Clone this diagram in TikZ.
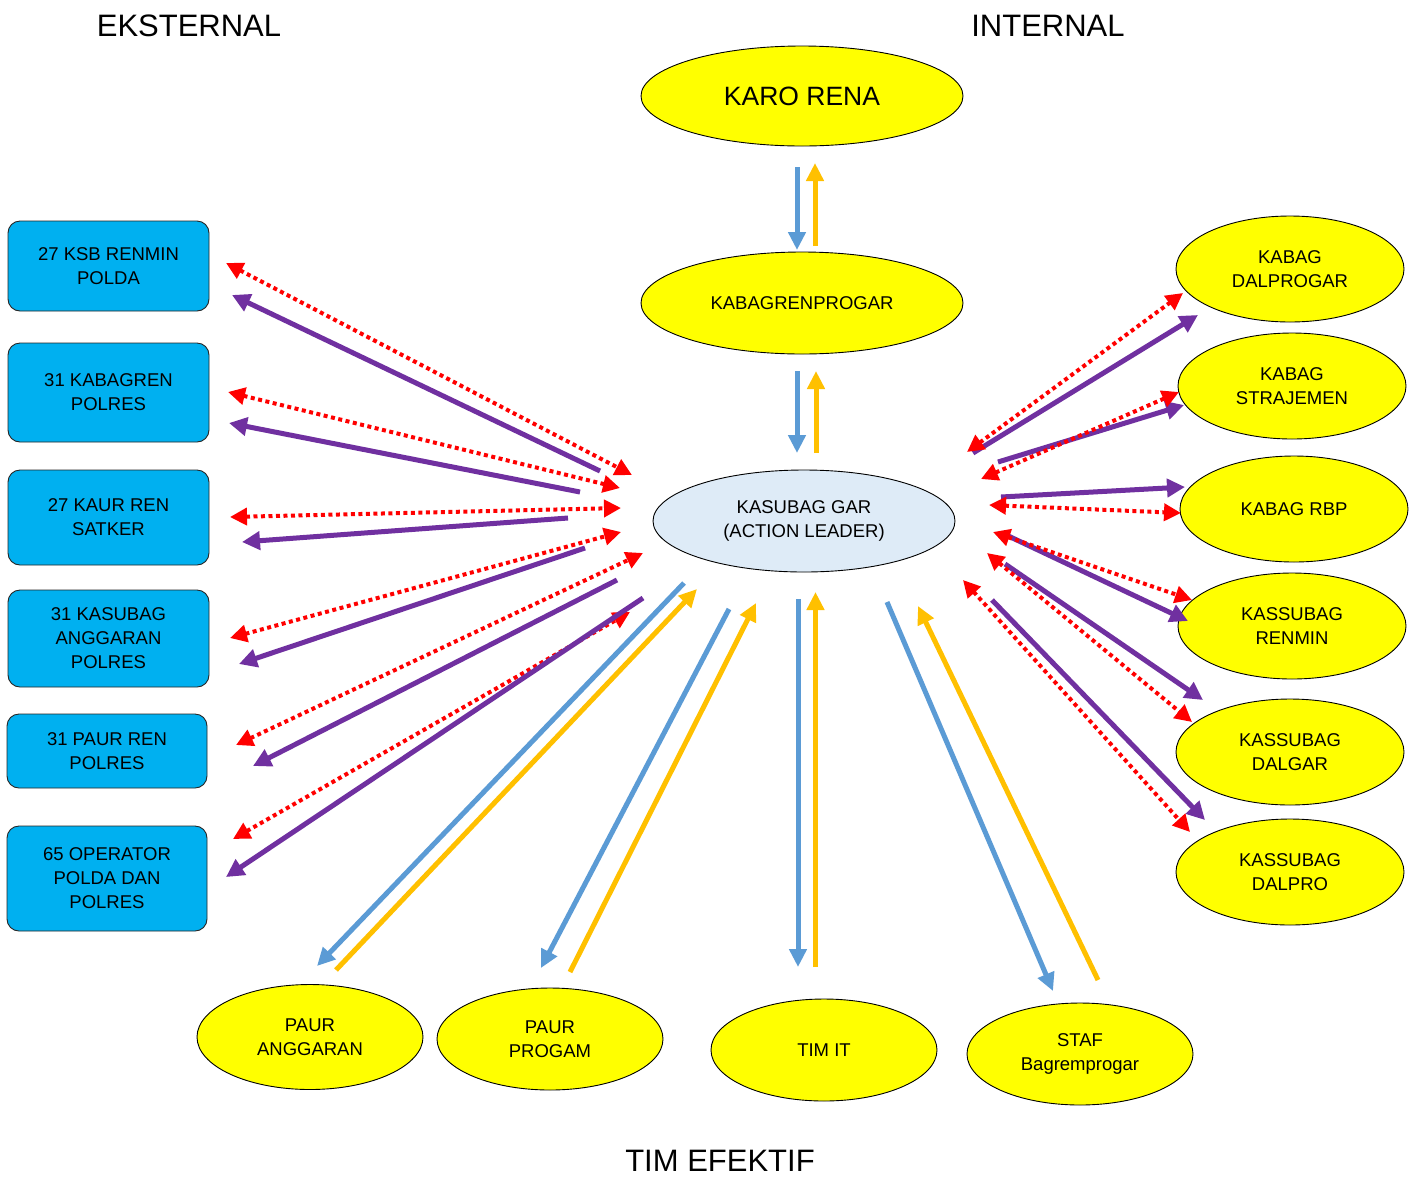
\documentclass[tikz,border=0pt]{standalone}
\usepackage{fontspec}
\setmainfont{Liberation Sans}
\usetikzlibrary{shapes.geometric,arrows.meta}

\definecolor{purp}{HTML}{7030A0}
\definecolor{blu}{HTML}{5B9BD5}
\definecolor{gold}{HTML}{FFC000}
\definecolor{cyanbox}{HTML}{00B0F0}
\definecolor{lead}{HTML}{DEEBF7}
\definecolor{yel}{HTML}{FFFF00}

\tikzset{
  small/.style={font=\fontsize{18.5}{24}\selectfont, align=center, text=black},
  unit/.style={ellipse, draw=black, line width=0.9pt, fill=yel, inner sep=0pt,
               minimum width=228pt, minimum height=106pt, small},
  extbox/.style={rectangle, rounded corners=12pt, draw=black!85, line width=0.9pt,
                 fill=cyanbox, inner sep=0pt, minimum width=201pt, small},
  title/.style={font=\fontsize{31}{36}\selectfont, text=black, inner sep=0pt},
  purparrow/.style={draw=purp, line width=5pt, -{Triangle[length=18pt,width=18pt]}},
  reddot/.style={draw=red, line width=4pt, dash pattern=on 4pt off 3.5pt,
                 {Triangle[length=17pt,width=17pt]}-{Triangle[length=17pt,width=17pt]}},
  bluarrow/.style={draw=blu, line width=5pt, -{Triangle[length=18pt,width=17pt]}},
  goldarrow/.style={draw=gold, line width=5pt, -{Triangle[length=18pt,width=17pt]}},
}

\begin{document}
\begin{tikzpicture}[x=1pt,y=-1pt]
\useasboundingbox[fill=white] (0,0) rectangle (1414,1179);

% headings
\node[title] (hext) at (189,26) {EKSTERNAL};
\node[title] (hint) at (1048,26) {INTERNAL};
\node[title] (htim) at (720,1161) {TIM EFEKTIF};

% central chain
\node[unit, minimum width=322pt, minimum height=100pt, font=\fontsize{26.5}{30}\selectfont] (karo) at (802,96) {KARO RENA};
\node[unit, minimum width=322pt, minimum height=102pt] (kabag) at (802,303) {KABAGRENPROGAR};
\node[unit, fill=lead, minimum width=302pt, minimum height=102pt] (gar) at (804,521) {KASUBAG GAR\\(ACTION LEADER)};

% internal units
\node[unit] (dalprogar) at (1290,269) {KABAG\\DALPROGAR};
\node[unit] (strajemen) at (1292,386) {KABAG\\STRAJEMEN};
\node[unit] (rbp)       at (1294,509) {KABAG RBP};
\node[unit] (renmin)    at (1292,626) {KASSUBAG\\RENMIN};
\node[unit] (dalgar)    at (1290,752) {KASSUBAG\\DALGAR};
\node[unit] (dalpro)    at (1290,872) {KASSUBAG\\DALPRO};

% effective team
\node[unit, minimum width=226pt, minimum height=105pt] (paurang) at (310,1037) {PAUR\\ANGGARAN};
\node[unit, minimum width=226pt, minimum height=102pt] (paurprog) at (550,1039) {PAUR\\PROGAM};
\node[unit, minimum width=226pt, minimum height=102pt] (timit) at (824,1050) {TIM IT};
\node[unit, minimum width=226pt, minimum height=102pt] (staf) at (1080,1054) {STAF\\Bagremprogar};

% external units
\node[extbox, minimum height=90pt]  (ksb)    at (108.5,266)   {27 KSB RENMIN\\POLDA};
\node[extbox, minimum height=99pt]  (kbg)    at (108.5,392.5) {31 KABAGREN\\POLRES};
\node[extbox, minimum height=95pt]  (kaur)   at (108.5,517.5) {27 KAUR REN\\SATKER};
\node[extbox, minimum height=97pt]  (ksbang) at (108.5,638.5) {31 KASUBAG\\ANGGARAN\\POLRES};
\node[extbox, minimum width=200pt, minimum height=74pt]  (paur)   at (107,751)   {31 PAUR REN\\POLRES};
\node[extbox, minimum width=200pt, minimum height=105pt] (oper)   at (107,878.5) {65 OPERATOR\\POLDA DAN\\POLRES};

% arrow end points
\coordinate (t1a) at (797,167); \coordinate (t1b) at (797,250);
\coordinate (t2a) at (815,246); \coordinate (t2b) at (815,163);
\coordinate (t3a) at (797,371); \coordinate (t3b) at (797,453);
\coordinate (t4a) at (816,453); \coordinate (t4b) at (816,371);

\coordinate (l1ra) at (226,263); \coordinate (l1rb) at (632,475);
\coordinate (l1pa) at (600,471); \coordinate (l1pb) at (232,295);
\coordinate (l2ra) at (228,392); \coordinate (l2rb) at (620,488);
\coordinate (l2pa) at (580,492); \coordinate (l2pb) at (229,423);
\coordinate (l3ra) at (230,517); \coordinate (l3rb) at (621,508);
\coordinate (l3pa) at (568,518); \coordinate (l3pb) at (242,542);
\coordinate (l4ra) at (230,638); \coordinate (l4rb) at (621,532);
\coordinate (l4pa) at (585,548); \coordinate (l4pb) at (239,664);
\coordinate (l5ra) at (236,745); \coordinate (l5rb) at (643,553);
\coordinate (l5pa) at (617,580); \coordinate (l5pb) at (253,766);
\coordinate (l6ra) at (233,839); \coordinate (l6rb) at (630,612);
\coordinate (l6pa) at (643,598); \coordinate (l6pb) at (226,877);

\coordinate (r1ra) at (967,452);  \coordinate (r1rb) at (1183,293);
\coordinate (r1pa) at (973,453);  \coordinate (r1pb) at (1198,315);
\coordinate (r2ra) at (981,479);  \coordinate (r2rb) at (1179,392);
\coordinate (r2pa) at (998,462);  \coordinate (r2pb) at (1184,405);
\coordinate (r3pa) at (1001,497); \coordinate (r3pb) at (1185,487);
\coordinate (r3ra) at (989,505);  \coordinate (r3rb) at (1181,513);
\coordinate (r4ra) at (993,532);  \coordinate (r4rb) at (1192,600);
\coordinate (r4pa) at (1002,533); \coordinate (r4pb) at (1188,621);
\coordinate (r5ra) at (987,553);  \coordinate (r5rb) at (1192,722);
\coordinate (r5pa) at (1005,564); \coordinate (r5pb) at (1203,700);
\coordinate (r6ra) at (963,580);  \coordinate (r6rb) at (1190,832);
\coordinate (r6pa) at (992,600);  \coordinate (r6pb) at (1205,820);

\coordinate (b1ba) at (684,583);  \coordinate (b1bb) at (317,966);
\coordinate (b1ya) at (336,970);  \coordinate (b1yb) at (697,589);
\coordinate (b2ba) at (729,609);  \coordinate (b2bb) at (541,968);
\coordinate (b2ya) at (570,972);  \coordinate (b2yb) at (756,603);
\coordinate (b3ba) at (798,599);  \coordinate (b3bb) at (798,967);
\coordinate (b3ya) at (815.5,967); \coordinate (b3yb) at (815.5,592);
\coordinate (b4ba) at (887,602);  \coordinate (b4bb) at (1053,991);
\coordinate (b4ya) at (1098,980); \coordinate (b4yb) at (918,606);

% vertical chain
\draw[bluarrow]  (t1a) -- (t1b);
\draw[goldarrow] (t2a) -- (t2b);
\draw[bluarrow]  (t3a) -- (t3b);
\draw[goldarrow] (t4a) -- (t4b);

% external links
\foreach \k in {1,...,6}{
  \draw[reddot]    (l\k ra) -- (l\k rb);
  \draw[purparrow] (l\k pa) -- (l\k pb);
}

% internal links
\foreach \k in {1,...,6}{
  \draw[purparrow] (r\k pa) -- (r\k pb);
  \draw[reddot]    (r\k ra) -- (r\k rb);
}

% team links
\foreach \k in {1,...,4}{
  \draw[bluarrow]  (b\k ba) -- (b\k bb);
  \draw[goldarrow] (b\k ya) -- (b\k yb);
}
\end{tikzpicture}
\end{document}
